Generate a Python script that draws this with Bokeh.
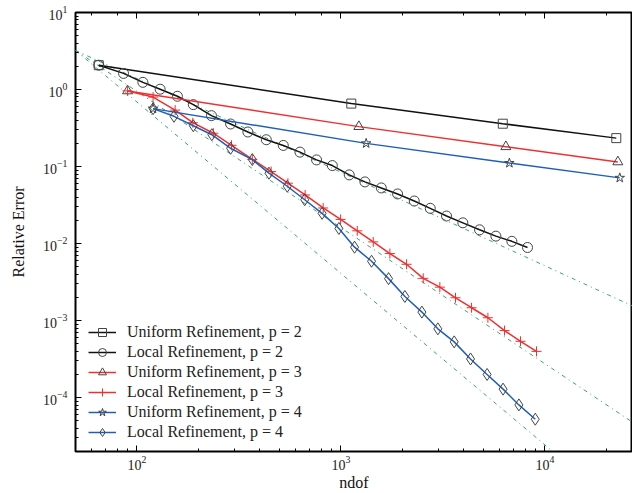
from bokeh.plotting import figure
from bokeh.models import LogAxis, Legend, LegendItem, Range1d, CustomJSTickFormatter
from bokeh.embed import file_html
from bokeh.resources import INLINE

# ---- data ----
uni2_x = [65, 1125, 6220, 22400]
uni2_y = [2.07, 0.657, 0.360, 0.234]

loc2_x = [65, 86, 107, 130, 158, 189, 232, 288, 350, 431, 522, 630, 760, 908, 1099,
          1312, 1578, 1897, 2290, 2743, 3296, 3963, 4786, 5754, 6890, 8222]
loc2_y = [2.07, 1.62, 1.24, 1.01, 0.818, 0.637, 0.458, 0.357, 0.281, 0.223, 0.188,
          0.154, 0.122, 0.103, 0.078, 0.0632, 0.0528, 0.0441, 0.0357, 0.0287, 0.0228,
          0.0186, 0.0151, 0.0125, 0.0107, 0.0089]

uni3_x = [90, 1225, 6440, 22800]
uni3_y = [0.96, 0.33, 0.181, 0.115]

loc3_x = [90, 120, 154, 188, 237, 291, 368, 455, 550, 668, 819, 997, 1203, 1441, 1739,
          2099, 2534, 3057, 3648, 4372, 5258, 6346, 7597, 9102]
loc3_y = [0.96, 0.798, 0.541, 0.371, 0.271, 0.189, 0.124, 0.0861, 0.0608, 0.0428,
          0.0290, 0.0206, 0.01465, 0.01052, 0.00743, 0.00539, 0.00354, 0.00272,
          0.00198, 0.00147, 0.00109, 0.000743, 0.000539, 0.000399]

uni4_x = [120, 1330, 6700, 23300]
uni4_y = [0.565, 0.2, 0.111, 0.0713]

loc4_x = [120, 152, 189, 233, 288, 368, 444, 546, 665, 809, 978, 1167, 1414, 1713,
          2060, 2496, 2988, 3594, 4322, 5210, 6240, 7461, 8975]
loc4_y = [0.565, 0.449, 0.339, 0.259, 0.1727, 0.1233, 0.082, 0.0555, 0.0371, 0.0247,
          0.01573, 0.00898, 0.0059, 0.00351, 0.00206, 0.00129, 0.000782, 0.00053,
          0.000318, 0.0002, 0.000129, 8.05e-5, 5.25e-5]

# reference slope lines (end points)
ref_x = [50, 26900]
ref1_y = [3.22, 1.55e-3]
ref2_y = [3.22, 4.8e-5]
ref3_y = [3.22, 2.7e-6]

labels = ["Uniform Refinement, p = 2", "Local Refinement, p = 2",
          "Uniform Refinement, p = 3", "Local Refinement, p = 3",
          "Uniform Refinement, p = 4", "Local Refinement, p = 4"]

FONT = "Liberation Serif"
BLACK = "#111111"
RED = "#f03030"
BLUE = "#1f5fb8"
GREEN = "#3aa56e"
EDGE = "#444444"

p = figure(frame_width=557, frame_height=439, x_axis_type="log", y_axis_type="log",
           x_range=Range1d(50, 26900), y_range=Range1d(2e-5, 10),
           output_backend="svg", toolbar_location=None,
           min_border_left=75, min_border_right=0, min_border_top=12,
           min_border_bottom=0)
p.grid.visible = False
p.outline_line_color = "black"
p.outline_line_width = 2
p.background_fill_color = "white"

for ax in (p.xaxis[0], p.yaxis[0]):
    ax.axis_line_color = None
    ax.major_tick_in = 6
    ax.major_tick_out = 0
    ax.minor_tick_in = 3
    ax.minor_tick_out = 0
    ax.major_tick_line_color = "black"
    ax.minor_tick_line_color = "black"
    ax.major_label_text_font = FONT
    ax.major_label_text_font_size = "14px"
    ax.major_label_text_color = "#222222"
    ax.axis_label_text_font = FONT
    ax.axis_label_text_font_size = "16px"
    ax.axis_label_text_font_style = "normal"
    ax.axis_label_text_color = "#111111"

p.xaxis.axis_label = "ndof"
p.yaxis.axis_label = "Relative Error"
p.xaxis.major_label_standoff = 4
p.xaxis.axis_label_standoff = 1
p.yaxis.major_label_standoff = 8
p.yaxis.axis_label_standoff = 13

top = LogAxis(axis_line_color=None, major_tick_in=6, major_tick_out=0,
              minor_tick_in=3, minor_tick_out=0, major_label_standoff=0,
              formatter=CustomJSTickFormatter(code="return '';"))
p.add_layout(top, "above")

# reference lines
for ry in (ref1_y, ref2_y, ref3_y):
    p.line(ref_x, ry, line_color=GREEN, line_width=1, line_dash="4 4 1 4")

series = [
    (uni2_x, uni2_y, BLACK, "square", 9, EDGE),
    (loc2_x, loc2_y, BLACK, "circle", 10, EDGE),
    (uni3_x, uni3_y, RED, "triangle", 10, EDGE),
    (loc3_x, loc3_y, RED, "cross", 10, RED),
    (uni4_x, uni4_y, BLUE, "star", 10, EDGE),
    (loc4_x, loc4_y, BLUE, "diamond", 12, EDGE),
]

items = []
for (xs, ys, col, mk, sz, ec), lab in zip(series, labels):
    r1 = p.line(xs, ys, line_color=col, line_width=1.5)
    r2 = p.scatter(xs, ys, marker=mk, size=sz, line_color=ec, line_width=1,
                   fill_alpha=0)
    items.append(LegendItem(label=lab, renderers=[r1, r2]))

legend = Legend(items=items, location=(13, 9), padding=0, margin=0, spacing=0,
                border_line_color=None, background_fill_alpha=0,
                label_text_font=FONT, label_text_font_size="16px",
                label_text_color="#222222", glyph_width=28, glyph_height=20,
                label_height=20, label_standoff=11)
p.add_layout(legend, "center")

open("out.html", "w").write(file_html(p, INLINE))
